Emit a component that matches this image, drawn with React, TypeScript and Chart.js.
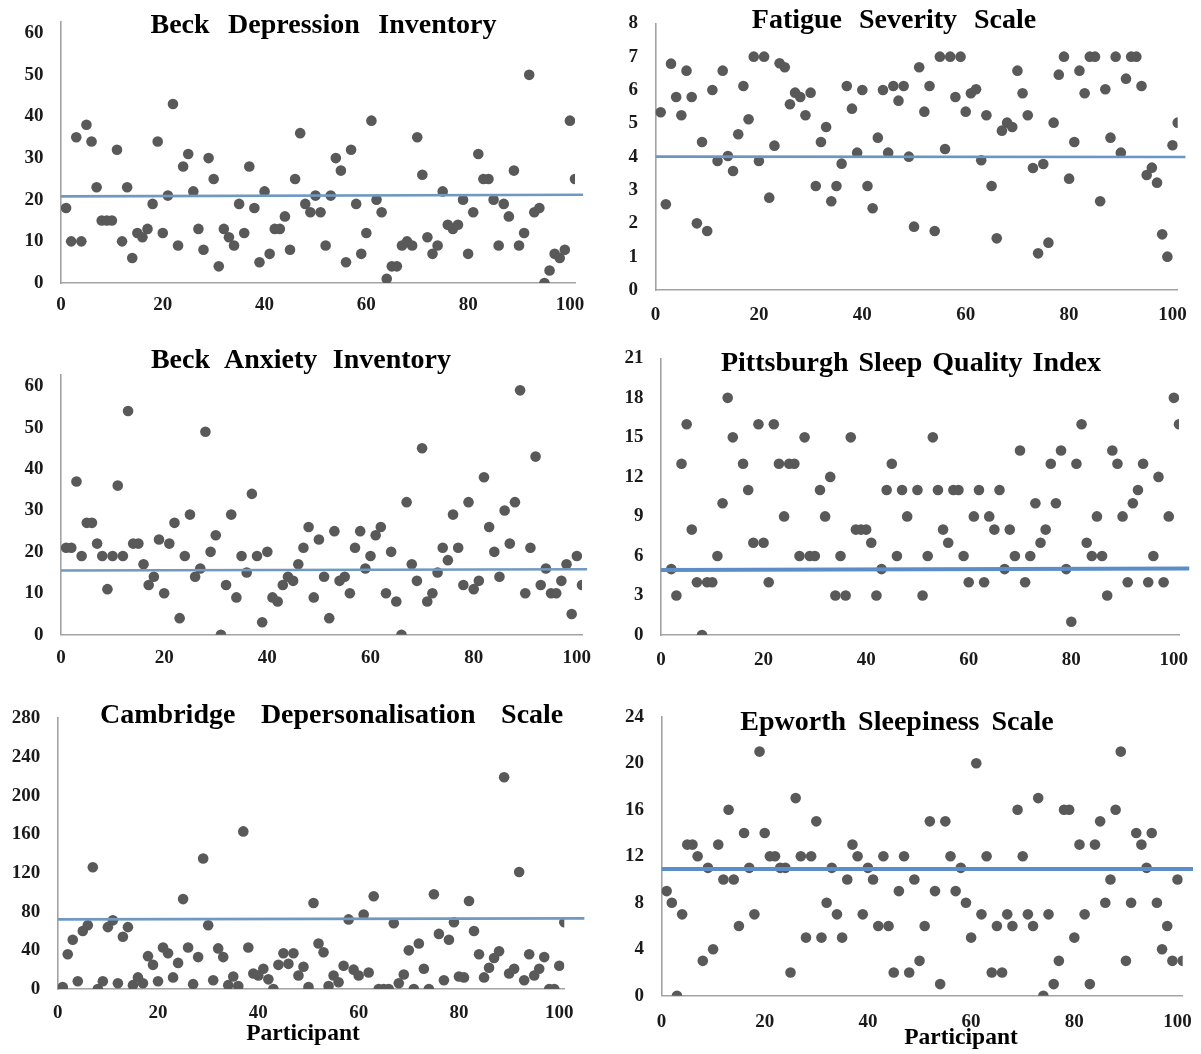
import React, { useEffect, useRef } from "react";
import { Chart, registerables } from "chart.js";

Chart.register(...registerables);

// ---------------- data ----------------
const participantIds = Array.from({ length: 101 }, (_, i) => i + 1);
const participantTicks = [0, 20, 40, 60, 80, 100];

const bdiScores = [
  18, 10, 35, 10, 38, 34, 23, 15, 15, 15, 32, 10, 23, 6, 12, 11, 13, 19, 34, 12,
  21, 43, 9, 28, 31, 22, 13, 8, 30, 25, 4, 13, 11, 9, 19, 12, 28, 18, 5, 22,
  7, 13, 13, 16, 8, 25, 36, 19, 17, 21, 17, 9, 21, 30, 27, 5, 32, 19, 7, 12,
  39, 20, 17, 1, 4, 4, 9, 10, 9, 35, 26, 11, 7, 9, 22, 14, 13, 14, 20, 7,
  17, 31, 25, 25, 20, 9, 19, 16, 27, 9, 12, 50, 17, 18, 0, 3, 7, 6, 8, 39, 25,
];
const bdiTicks = [0, 10, 20, 30, 40, 50, 60];
const bdiMeanLine = [20.8, 21.2];
const bdiMeanSpan = [0, 102.6];

const fssScores = [
  5.33, 2.57, 6.79, 5.79, 5.24, 6.58, 5.79, 2.0, 4.44, 1.77, 6.0, 3.87, 6.58, 4.02, 3.57, 4.67, 6.12, 5.12, 7.0, 3.87,
  7.0, 2.77, 4.33, 6.8, 6.68, 5.57, 5.92, 5.79, 5.24, 5.92, 3.12, 4.44, 4.89, 2.66, 3.12, 3.79, 6.12, 5.44, 4.12, 6.0,
  3.12, 2.45, 4.57, 6.0, 4.12, 6.12, 5.68, 6.12, 4.0, 1.9, 6.68, 5.35, 6.12, 1.77, 7.0, 4.23, 7.0, 5.79, 7.0, 5.35,
  5.9, 6.02, 3.89, 5.24, 3.12, 1.55, 4.78, 5.02, 4.89, 6.58, 5.9, 5.24, 3.66, 1.1, 3.78, 1.42, 5.02, 6.46, 7.0, 3.34,
  4.44, 6.58, 5.9, 7.0, 7.0, 2.66, 6.02, 4.57, 7.0, 4.12, 6.34, 7.0, 7.0, 6.12, 3.45, 3.67, 3.22, 1.67, 1.0, 4.34, 5.02,
];
const fssTicks = [0, 1, 2, 3, 4, 5, 6, 7, 8];
const fssMeanLine = [4.0, 3.99];
const fssMeanSpan = [0, 102.5];

const baiScores = [
  21, 21, 37, 19, 27, 27, 22, 19, 11, 19, 36, 19, 54, 22, 22, 17, 12, 14, 23, 10,
  22, 27, 4, 19, 29, 14, 16, 49, 20, 24, 0, 12, 29, 9, 19, 15, 34, 19, 3, 20,
  9, 8, 12, 14, 13, 17, 21, 26, 9, 23, 14, 4, 25, 13, 14, 10, 21, 25, 16, 19,
  24, 26, 10, 20, 8, 0, 32, 17, 13, 45, 8, 10, 15, 21, 18, 29, 21, 12, 32, 11,
  13, 38, 26, 20, 14, 30, 22, 32, 59, 10, 21, 43, 12, 16, 10, 10, 13, 17, 5, 19, 12,
];
const baiTicks = [0, 10, 20, 30, 40, 50, 60];
const baiMeanLine = [15.5, 15.8];
const baiMeanSpan = [0, 102];

const psqiScores = [
  null, 5, 3, 13, 16, 8, 4, 0, 4, 4, 6, 10, 18, 15, null, 13, 11, 7, 16, 7,
  4, 16, 13, 9, 13, 13, 6, 15, 6, 6, 11, 9, 12, 3, 6, 3, 15, 8, 8, 8,
  7, 3, 5, 11, 13, 6, 11, 9, null, 11, 3, 6, 15, 11, 8, 7, 11, 11, 6, 4,
  9, 11, 4, 9, 8, 11, 5, 8, 6, 14, 4, 6, 10, 7, 8, 13, 10, 14, 5, 1,
  13, 16, 7, 6, 9, 6, 3, 14, 13, 9, 4, 10, 11, 13, 4, 6, 12, 4, 9, 18, 16,
];
const psqiTicks = [0, 3, 6, 9, 12, 15, 18, 21];
const psqiMeanLine = [4.93, 5.04];
const psqiMeanSpan = [0, 103];

const cdsScores = [
  2, 36, 51, 8, 60, 66, 126, 0, 8, 64, 71, 6, 54, 64, 4, 12, 6, 34, 25, 8,
  43, 37, 12, 27, 93, 43, 5, 33, 135, 66, 9, 42, 33, 4, 13, 3, 163, 43, 16, 14,
  21, 10, 0, 25, 37, 26, 37, 14, 23, 2, 89, 47, 38, 3, 14, 7, 24, 72, 20, 14,
  77, 17, 96, 0, 0, 0, 68, 6, 15, 40, 0, 47, 21, 0, 98, 57, 9, 51, 69, 13,
  12, 91, 60, 36, 12, 22, 32, 39, 219, 16, 21, 121, 9, 36, 14, 21, 33, 0, 0, 24, 69,
];
const cdsTicks = [0, 40, 80, 120, 160, 200, 240, 280];
const cdsMeanLine = [72, 73.1];
const cdsMeanSpan = [0, 105];

const essScores = [
  9, 8, 0, 7, 13, 13, 12, 3, 11, 4, 13, 10, 16, 10, 6, 14, 11, 7, 21, 14,
  12, 12, 11, 11, 2, 17, 12, 5, 12, 15, 5, 8, 11, 7, 5, 10, 13, 12, 7, 11,
  10, 6, 12, 6, 2, 9, 12, 2, 10, 3, 6, 15, 9, 1, 15, 12, 9, 11, 8, 5,
  20, 7, 12, 2, 6, 2, 7, 6, 16, 12, 7, 6, 17, 0, 7, 1, 3, 16, 16, 5,
  13, 7, 1, 13, 15, 8, 10, 16, 21, 3, 8, 14, 13, 11, 14, 8, 4, 6, 3, 10, 3,
];
const essTicks = [0, 4, 8, 12, 16, 20, 24];
const essMeanLine = [10.9, 10.9];
const essMeanSpan = [0, 103];

const xAxisLabel = "Participant";

// ---------------- layout / style ----------------
const FONT = "'Liberation Serif', 'Times New Roman', Times, serif";
const YW = 56;
const PT = 34;
const PR = 34;
const XH = 42;

type Area = { L: number; R: number; T: number; B: number };
type PanelSpec = {
  title: string;
  scores: (number | null)[];
  yTicks: number[];
  meanLine: number[];
  meanSpan: number[];
  yMax: number;
  area: Area;
  labelGap: number;
  lineColor: string;
  lineWidth: number;
  titleX: number;
  titleBase: number;
  titleWs: number;
};

const panels: PanelSpec[] = [
  {
    title: "Beck Depression Inventory",
    scores: bdiScores, yTicks: bdiTicks, meanLine: bdiMeanLine, meanSpan: bdiMeanSpan,
    yMax: 62.7, area: { L: 61, R: 575, T: 22, B: 283 }, labelGap: 22.5,
    lineColor: "#7099c2", lineWidth: 2.7, titleX: 323.5, titleBase: 33.3, titleWs: 11.5,
  },
  {
    title: "Fatigue Severity Scale",
    scores: fssScores, yTicks: fssTicks, meanLine: fssMeanLine, meanSpan: fssMeanSpan,
    yMax: 8, area: { L: 655.5, R: 1177.7, T: 23.3, B: 290 }, labelGap: 24.7,
    lineColor: "#6b95c4", lineWidth: 2.7, titleX: 894, titleBase: 28.3, titleWs: 10,
  },
  {
    title: "Beck Anxiety Inventory",
    scores: baiScores, yTicks: baiTicks, meanLine: baiMeanLine, meanSpan: baiMeanSpan,
    yMax: 62.7, area: { L: 61, R: 582, T: 375, B: 634.7 }, labelGap: 23.6,
    lineColor: "#7099c2", lineWidth: 2.7, titleX: 301, titleBase: 368.3, titleWs: 8.5,
  },
  {
    title: "Pittsburgh Sleep Quality Index",
    scores: psqiScores, yTicks: psqiTicks, meanLine: psqiMeanLine, meanSpan: psqiMeanSpan,
    yMax: 21, area: { L: 661, R: 1179, T: 358.3, B: 635 }, labelGap: 25,
    lineColor: "#5b8ec9", lineWidth: 4, titleX: 911, titleBase: 371.7, titleWs: 3,
  },
  {
    title: "Cambridge Depersonalisation Scale",
    scores: cdsScores, yTicks: cdsTicks, meanLine: cdsMeanLine, meanSpan: cdsMeanSpan,
    yMax: 280, area: { L: 57.7, R: 564.3, T: 718.3, B: 989 }, labelGap: 24.3,
    lineColor: "#7099c2", lineWidth: 2.7, titleX: 331.7, titleBase: 723.3, titleWs: 18.5,
  },
  {
    title: "Epworth Sleepiness Scale",
    scores: essScores, yTicks: essTicks, meanLine: essMeanLine, meanSpan: essMeanSpan,
    yMax: 24, area: { L: 661.5, R: 1182.7, T: 716.7, B: 995.7 }, labelGap: 26,
    lineColor: "#5b8ec9", lineWidth: 4, titleX: 897, titleBase: 730, titleWs: 5,
  },
];

const axisLabels = [
  { text: xAxisLabel, x: 303, base: 1041 },
  { text: xAxisLabel, x: 961, base: 1045 },
];

const TICK_SIZE = 19;

function ScatterPanel({ spec }: { spec: PanelSpec }) {
  const ref = useRef<HTMLCanvasElement>(null);
  const { L, R, T, B } = spec.area;
  const cl = Math.floor(L) - YW;
  const ct = Math.floor(T) - PT;
  const w = Math.ceil(R) + PR - cl;
  const h = Math.ceil(B) + XH - ct;

  useEffect(() => {
    const canvas = ref.current;
    if (!canvas) return;
    const points = participantIds
      .map((id, i) => ({ x: id, y: spec.scores[i] }))
      .filter((p) => p.y !== null && p.y !== undefined) as { x: number; y: number }[];
    const tickFont = { family: FONT, size: TICK_SIZE, weight: "bold" as const };
    const lineH = TICK_SIZE * 1.2;

    const chart = new Chart(canvas, {
      type: "scatter",
      data: {
        datasets: [
          {
            data: [
              { x: spec.meanSpan[0], y: spec.meanLine[0] },
              { x: spec.meanSpan[1], y: spec.meanLine[1] },
            ],
            showLine: true,
            borderColor: spec.lineColor,
            backgroundColor: spec.lineColor,
            borderWidth: spec.lineWidth,
            pointRadius: 0,
            pointHoverRadius: 0,
            clip: { left: 0, top: 0, right: PR, bottom: 0 } as any,
            order: 0,
          },
          {
            data: points,
            showLine: false,
            pointRadius: 5.3,
            pointHoverRadius: 5.3,
            backgroundColor: "#595959",
            borderColor: "#595959",
            pointBackgroundColor: "#595959",
            pointBorderColor: "#595959",
            borderWidth: 0,
            pointBorderWidth: 0,
            order: 1,
          },
        ],
      },
      options: {
        animation: false,
        responsive: false,
        devicePixelRatio: 1,
        events: [],
        layout: {
          padding: { left: 0, top: T - ct, right: w - (R - cl), bottom: 0 },
        },
        plugins: {
          legend: { display: false },
          tooltip: { enabled: false },
          title: { display: false },
        },
        scales: {
          x: {
            type: "linear",
            position: "bottom",
            min: 0,
            max: 101,
            afterBuildTicks: (s: any) => {
              s.ticks = participantTicks.map((v) => ({ value: v }));
            },
            afterFit: (s: any) => {
              s.height = h - (B - ct);
            },
            grid: { display: false, drawTicks: false },
            border: { display: true, color: "#a3a3a3", width: 1.6 },
            ticks: {
              padding: spec.labelGap - lineH / 2,
              font: tickFont,
              color: "#1a1a1a",
              maxRotation: 0,
              autoSkip: false,
            },
          },
          y: {
            type: "linear",
            position: "left",
            min: 0,
            max: spec.yMax,
            afterBuildTicks: (s: any) => {
              s.ticks = spec.yTicks.map((v) => ({ value: v }));
            },
            afterFit: (s: any) => {
              s.width = L - cl;
            },
            grid: { display: false, drawTicks: false },
            border: { display: true, color: "#a3a3a3", width: 1.6 },
            ticks: {
              padding: 17.5,
              font: tickFont,
              color: "#1a1a1a",
              autoSkip: false,
            },
          },
        },
      },
    });
    return () => chart.destroy();
  }, [spec]);

  return (
    <canvas
      ref={ref}
      width={w}
      height={h}
      style={{ position: "absolute", left: cl, top: ct, width: w, height: h }}
    />
  );
}

function TextLabel({ text, x, base, size, ws }: { text: string; x: number; base: number; size: number; ws: number }) {
  return (
    <div
      style={{
        position: "absolute",
        left: x,
        top: base - 0.8375 * size,
        transform: "translateX(-50%)",
        fontFamily: FONT,
        fontWeight: "bold",
        fontSize: size,
        lineHeight: `${size}px`,
        whiteSpace: "nowrap",
        wordSpacing: ws,
        color: "#000",
      }}
    >
      {text}
    </div>
  );
}

export default function App() {
  useEffect(() => {
    document.body.style.overflow = "hidden";
  }, []);
  return (
    <div
      style={{
        position: "absolute",
        left: 0,
        top: 0,
        width: 1201,
        height: 1054,
        overflow: "hidden",
        background: "#fff",
      }}
    >
      {panels.map((p, i) => (
        <ScatterPanel key={"c" + i} spec={p} />
      ))}
      {panels.map((p, i) => (
        <TextLabel key={"t" + i} text={p.title} x={p.titleX} base={p.titleBase} size={28} ws={p.titleWs} />
      ))}
      {axisLabels.map((a, i) => (
        <TextLabel key={"a" + i} text={a.text} x={a.x} base={a.base} size={23.5} ws={0} />
      ))}
    </div>
  );
}
